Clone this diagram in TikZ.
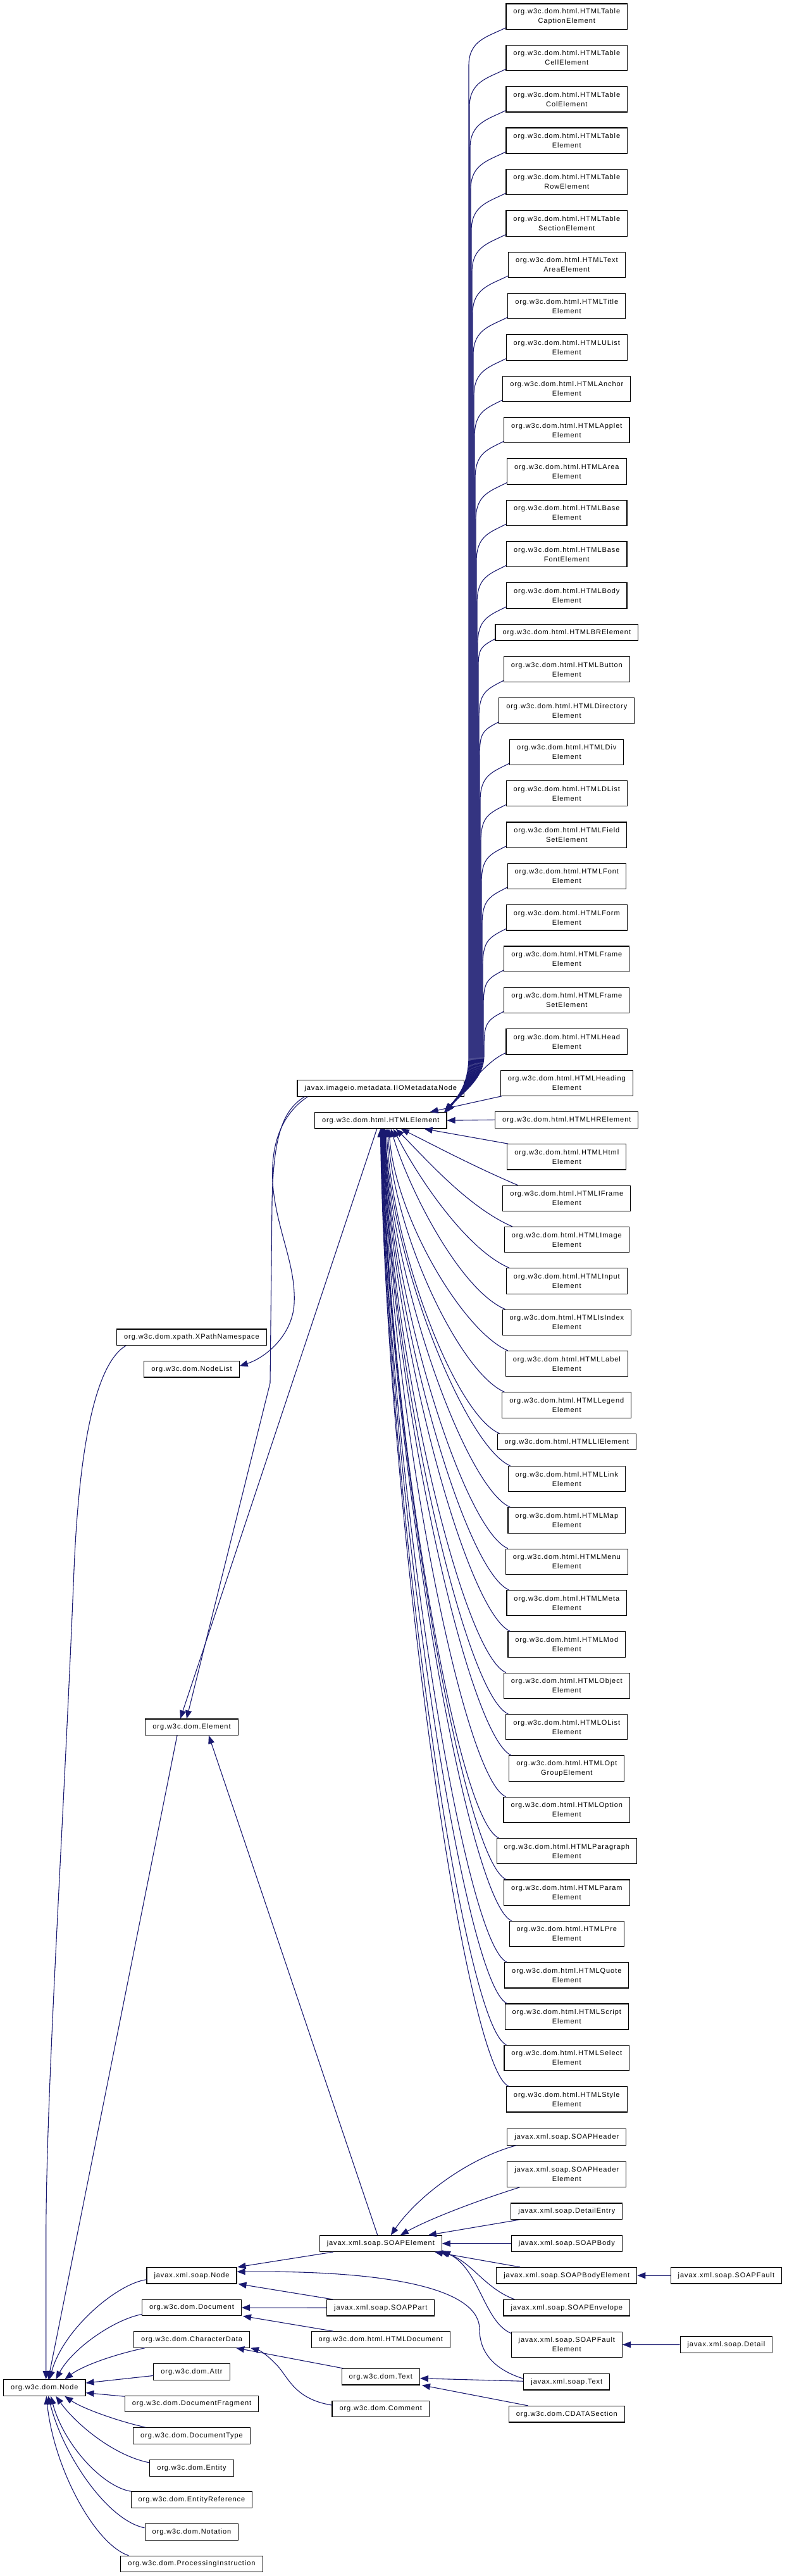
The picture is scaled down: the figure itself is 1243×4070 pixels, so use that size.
\documentclass[tikz,border=0pt]{standalone}
\usepackage{fontspec}
\setmainfont{Liberation Sans}[LetterSpace=8.5]
\usetikzlibrary{arrows.meta,calc}
\definecolor{navy}{RGB}{25,25,112}
\newcommand{\htwo}[3]{\node[cls,two] (#1) at (895.8,#2) {org.w3c.dom.html.HTML#3};}
\newcommand{\hone}[3]{\node[cls] (#1) at (895.8,#2) {org.w3c.dom.html.HTML#3};}
\newcommand{\upedge}[4]{\draw[edge] ($(#1.south west)+(0,-3)$) .. controls +(-28,14) and +(0,-40) .. (#3,#2+57) -- (#3,1668) .. controls (#3,1706) and (729,1727) .. ($(HE.north east)+(#4,0)$);}
\newcommand{\loedge}[5]{\draw[edge] ($(#1.north west)+(#2,0)$) .. controls +(-70,-30) and +(#4,#5) .. ($(HE.south)+(#3,0)$);}
\begin{document}
\begin{tikzpicture}[x=1pt,y=-1pt,
 cls/.style={draw=black, line width=1.1pt, fill=white, inner xsep=11.5pt, inner ysep=1pt, minimum height=25.5pt, align=center, font=\fontsize{11}{15}\selectfont},
 two/.style={minimum height=40.3pt},
 edge/.style={draw=navy, line width=1.1pt, -{Triangle[length=13pt,width=10pt]}}]
\fill[white] (0,0) rectangle (1243,4070);
\useasboundingbox (0,0) rectangle (1243,4070);
% HTML column
\htwo{h1}{26.15}{Table\\CaptionElement}
\htwo{h2}{91.5}{Table\\CellElement}
\htwo{h3}{156.85}{Table\\ColElement}
\htwo{h4}{222.2}{Table\\Element}
\htwo{h5}{287.55}{Table\\RowElement}
\htwo{h6}{352.9}{Table\\SectionElement}
\htwo{h7}{418.25}{Text\\AreaElement}
\htwo{h8}{483.6}{Title\\Element}
\htwo{h9}{548.95}{UList\\Element}
\htwo{h10}{614.3}{Anchor\\Element}
\htwo{h11}{679.65}{Applet\\Element}
\htwo{h12}{745.0}{Area\\Element}
\htwo{h13}{810.35}{Base\\Element}
\htwo{h14}{875.7}{Base\\FontElement}
\htwo{h15}{941.05}{Body\\Element}
\hone{h16}{999.25}{BRElement}
\htwo{h17}{1057.7}{Button\\Element}
\htwo{h18}{1123.05}{Directory\\Element}
\htwo{h19}{1188.4}{Div\\Element}
\htwo{h20}{1253.75}{DList\\Element}
\htwo{h21}{1319.1}{Field\\SetElement}
\htwo{h22}{1384.45}{Font\\Element}
\htwo{h23}{1449.8}{Form\\Element}
\htwo{h24}{1515.15}{Frame\\Element}
\htwo{h25}{1580.5}{Frame\\SetElement}
\htwo{h26}{1645.85}{Head\\Element}
\htwo{h27}{1711.2}{Heading\\Element}
\hone{h28}{1769.4}{HRElement}
\htwo{h29}{1827.85}{Html\\Element}
\htwo{h30}{1893.2}{IFrame\\Element}
\htwo{h31}{1958.55}{Image\\Element}
\htwo{h32}{2023.9}{Input\\Element}
\htwo{h33}{2089.25}{IsIndex\\Element}
\htwo{h34}{2154.6}{Label\\Element}
\htwo{h35}{2219.95}{Legend\\Element}
\hone{h36}{2278.15}{LIElement}
\htwo{h37}{2336.6}{Link\\Element}
\htwo{h38}{2401.95}{Map\\Element}
\htwo{h39}{2467.3}{Menu\\Element}
\htwo{h40}{2532.65}{Meta\\Element}
\htwo{h41}{2598.0}{Mod\\Element}
\htwo{h42}{2663.35}{Object\\Element}
\htwo{h43}{2728.7}{OList\\Element}
\htwo{h44}{2794.05}{Opt\\GroupElement}
\htwo{h45}{2859.4}{Option\\Element}
\htwo{h46}{2924.75}{Paragraph\\Element}
\htwo{h47}{2990.1}{Param\\Element}
\htwo{h48}{3055.45}{Pre\\Element}
\htwo{h49}{3120.8}{Quote\\Element}
\htwo{h50}{3186.15}{Script\\Element}
\htwo{h51}{3251.5}{Select\\Element}
\htwo{h52}{3316.85}{Style\\Element}
% SOAP column
\node[cls] (SH) at (895.8,3376.3) {javax.xml.soap.SOAPHeader};
\node[cls,two] (SHE) at (895.8,3435.2) {javax.xml.soap.SOAPHeader\\Element};
\node[cls] (DE) at (895.8,3493.7) {javax.xml.soap.DetailEntry};
\node[cls] (SB) at (895.8,3544.7) {javax.xml.soap.SOAPBody};
\node[cls] (SBE) at (895.8,3595.2) {javax.xml.soap.SOAPBodyElement};
\node[cls] (SEnv) at (895.8,3646.2) {javax.xml.soap.SOAPEnvelope};
\node[cls,two] (SFE) at (895.8,3704.4) {javax.xml.soap.SOAPFault\\Element};
\node[cls] (sTx) at (895.8,3763.2) {javax.xml.soap.Text};
\node[cls] (CDS) at (895.8,3814.2) {org.w3c.dom.CDATASection};
\node[cls] (SF) at (1147.9,3595.2) {javax.xml.soap.SOAPFault};
\node[cls] (Det) at (1147.9,3704.5) {javax.xml.soap.Detail};
% middle column
\node[cls] (IIO) at (601.8,1719.5) {javax.imageio.metadata.IIOMetadataNode};
\node[cls] (HE) at (601.8,1770.2) {org.w3c.dom.html.HTMLElement};
\node[cls] (SE) at (601.8,3544.7) {javax.xml.soap.SOAPElement};
\node[cls] (SP) at (601.8,3646.2) {javax.xml.soap.SOAPPart};
\node[cls] (HD) at (601.8,3696.5) {org.w3c.dom.html.HTMLDocument};
\node[cls] (Tx) at (601.8,3755.2) {org.w3c.dom.Text};
\node[cls] (Cm) at (601.8,3806) {org.w3c.dom.Comment};
% left column
\node[cls] (XP) at (303,2112.7) {org.w3c.dom.xpath.XPathNamespace};
\node[cls] (NL) at (303,2163.2) {org.w3c.dom.NodeList};
\node[cls] (El) at (303,2728.7) {org.w3c.dom.Element};
\node[cls] (sN) at (303,3595.2) {javax.xml.soap.Node};
\node[cls] (Doc) at (303,3646) {org.w3c.dom.Document};
\node[cls] (CD) at (303,3696.4) {org.w3c.dom.CharacterData};
\node[cls] (At) at (303,3747.4) {org.w3c.dom.Attr};
\node[cls] (DF) at (303,3798) {org.w3c.dom.DocumentFragment};
\node[cls] (DT) at (303,3848.4) {org.w3c.dom.DocumentType};
\node[cls] (En) at (303,3899.4) {org.w3c.dom.Entity};
\node[cls] (ER) at (303,3949.5) {org.w3c.dom.EntityReference};
\node[cls] (No) at (303,4000.4) {org.w3c.dom.Notation};
\node[cls] (PI) at (303,4051) {org.w3c.dom.ProcessingInstruction};
\node[cls] (N) at (70.3,3772.5) {org.w3c.dom.Node};
% upper HTML edges
\upedge{h1}{46.3}{741}{-1}
\upedge{h2}{111.65}{742}{-2}
\upedge{h3}{177}{743}{-3}
\upedge{h4}{242.35}{744}{-4}
\upedge{h5}{307.7}{745}{-1}
\upedge{h6}{373.05}{746}{-2}
\upedge{h7}{438.4}{747}{-3}
\upedge{h8}{503.75}{748}{-4}
\upedge{h9}{569.1}{749}{-1}
\upedge{h10}{634.45}{750}{-2}
\upedge{h11}{699.8}{751}{-3}
\upedge{h12}{765.15}{752}{-4}
\upedge{h13}{830.5}{753}{-1}
\upedge{h14}{895.85}{754}{-2}
\upedge{h15}{961.2}{755}{-3}
\upedge{h16}{1012.25}{756}{-4}
\upedge{h17}{1077.85}{757}{-1}
\upedge{h18}{1143.2}{758}{-2}
\upedge{h19}{1208.55}{759}{-3}
\upedge{h20}{1273.9}{760}{-4}
\upedge{h21}{1339.25}{761}{-1}
\upedge{h22}{1404.6}{762}{-2}
\upedge{h23}{1469.95}{763}{-3}
\upedge{h24}{1535.3}{764}{-4}
\upedge{h25}{1600.65}{765}{-1}
\draw[edge] ($(h26.south west)+(0,-3)$) .. controls +(-30,12) and (735,1722) .. ($(HE.north east)+(-2,0)$);
\draw[edge] ($(h27.south west)+(2,0)$) -- ($(HE.north east)+(-27,0)$);
\draw[edge] (h28.west) -- (HE.east);
\draw[edge] ($(h29.north west)+(2,0)$) -- ($(HE.south east)+(-36,0)$);
% lower HTML edges
\loedge{h30}{24}{32}{60}{30}
\loedge{h31}{13}{24}{45}{45}
\loedge{h32}{5}{20}{35}{70}
\loedge{h33}{5}{16}{30}{100}
\loedge{h34}{4}{13}{10}{141}
\loedge{h35}{4}{11}{10}{167}
\loedge{h36}{4}{9}{10}{193}
\loedge{h37}{4}{7}{10}{213}
\loedge{h38}{4}{6.5}{10}{240}
\loedge{h39}{4}{6}{10}{266}
\loedge{h40}{4}{5.5}{10}{292}
\loedge{h41}{4}{5}{10}{318}
\loedge{h42}{4}{4.5}{10}{344}
\loedge{h43}{4}{4}{10}{370}
\loedge{h44}{4}{3.5}{10}{396}
\loedge{h45}{4}{3}{10}{423}
\loedge{h46}{4}{2.5}{10}{449}
\loedge{h47}{4}{2}{10}{475}
\loedge{h48}{4}{1.5}{10}{501}
\loedge{h49}{4}{1}{10}{527}
\loedge{h50}{4}{0.5}{10}{553}
\loedge{h51}{4}{0}{10}{580}
\loedge{h52}{4}{-0.5}{10}{606}
% Element / IIO / NodeList
\draw[edge] ($(HE.south)+(-6,0)$) -- ($(El.north)+(-18,0)$);
\draw[edge] ($(IIO.south west)+(12,0)$) .. controls (445,1755) and (432,1800) .. (430,1900) -- (427,2185) -- ($(El.north)+(-8,0)$);
\draw[edge] ($(IIO.south west)+(17,0)$) .. controls (445,1760) and (425,1810) .. (432,1880) .. controls (440,1950) and (468,2000) .. (465,2060) .. controls (462,2110) and (420,2145) .. ($(NL.east)+(0,-5)$);
\draw[edge] ($(SE.north)+(-5,0)$) -- ($(El.south)+(27,0)$);
% SOAPElement children
\draw[edge] ($(SH.south west)+(15,0)$) .. controls (740,3410) and (660,3470) .. ($(SE.north)+(16,0)$);
\draw[edge] ($(SHE.south west)+(20,0)$) .. controls (760,3475) and (680,3505) .. ($(SE.north)+(31,0)$);
\draw[edge] ($(DE.south west)+(14,0)$) -- ($(SE.north east)+(-22,0)$);
\draw[edge] (SB.west) -- (SE.east);
\draw[edge] ($(SBE.north west)+(38,0)$) -- ($(SE.south east)+(-12,0)$);
\draw[edge] ($(SEnv.north west)+(18,0)$) .. controls (765,3615) and (745,3572) .. ($(SE.south east)+(-3,0)$);
\draw[edge] ($(SFE.west)+(0,-18)$) .. controls (765,3668) and (758,3585) .. ($(SE.south east)+(0,-2)$);
\draw[edge] (SF.west) -- (SBE.east);
\draw[edge] (Det.west) -- (SFE.east);
% soap.Node, Document, CharacterData, Text
\draw[edge] ($(SE.south west)+(22,0)$) -- ($(sN.north east)+(1,0)$);
\draw[edge] ($(sTx.west)+(0,-5)$) .. controls (785,3745) and (758,3720) .. (758,3680) .. controls (758,3622) and (640,3587) .. ($(sN.east)+(0,-6)$);
\draw[edge] ($(SP.north west)+(10,0)$) -- ($(sN.south east)+(2,0)$);
\draw[edge] (SP.west) -- (Doc.east);
\draw[edge] ($(HD.north west)+(35,0)$) -- ($(Doc.south east)+(2,0)$);
\draw[edge] ($(Tx.north west)+(3,0)$) -- ($(CD.south east)+(-22,0)$);
\draw[edge] ($(Cm.west)+(0,-6)$) .. controls (462,3790) and (455,3752) .. (434,3733) .. controls (422,3721) and (412,3714) .. ($(CD.south east)+(1,0)$);
\draw[edge] ($(sTx.west)+(0,-1)$) -- ($(Tx.east)+(0,2.5)$);
\draw[edge] ($(CDS.north west)+(31,0)$) -- ($(Tx.south east)+(3,0)$);
% org.w3c.dom.Node children
\draw[edge] ($(sN.west)+(0,6.5)$) .. controls (185,3608) and (100,3680) .. ($(N.north)+(8,0)$);
\draw[edge] ($(Doc.west)+(0,10.5)$) .. controls (180,3665) and (115,3710) .. ($(N.north)+(18,0)$);
\draw[edge] ($(CD.south west)+(18,0)$) .. controls (180,3720) and (130,3738) .. ($(N.north)+(32,0)$);
\draw[edge] ($(At.west)+(0,6)$) -- ($(N.east)+(0,-7.5)$);
\draw[edge] ($(DF.north west)+(0,1.5)$) -- ($(N.east)+(0,8)$);
\draw[edge] ($(DT.north west)+(20,0)$) .. controls (185,3825) and (130,3805) .. ($(N.south)+(32,0)$);
\draw[edge] ($(En.west)+(0,-8.5)$) .. controls (180,3880) and (120,3830) .. ($(N.south)+(18,0)$);
\draw[edge] (ER.north west) .. controls (160,3928) and (100,3860) .. ($(N.south)+(10,0)$);
\draw[edge] ($(No.west)+(0,-6.5)$) .. controls (170,3982) and (100,3880) .. ($(N.south)+(6,0)$);
\draw[edge] ($(PI.north west)+(13,0)$) .. controls (150,4020) and (85,3900) .. ($(N.south)+(3,0)$);
\draw[edge] ($(El.south)+(-23,0)$) -- ($(N.north)+(6,0)$);
\draw[edge] ($(XP.south west)+(15,0)$) .. controls (150,2155) and (125,2290) .. (117,2480) .. controls (100,2900) and (72.7,3300) .. (72.7,3540) -- ($(N.north)+(2.4,0)$);
\end{tikzpicture}
\end{document}
